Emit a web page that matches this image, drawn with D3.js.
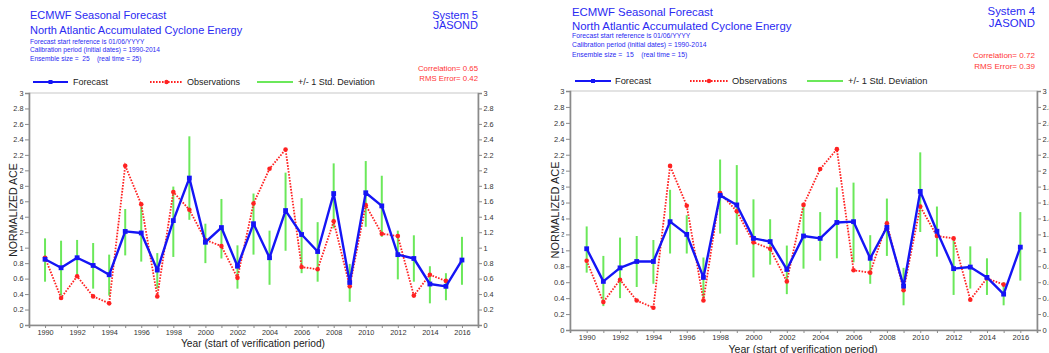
<!DOCTYPE html>
<html>
<head>
<meta charset="utf-8">
<script src="https://cdn.jsdelivr.net/npm/d3@7"></script>
<style>
  body { margin: 0; background: #fff; }
  svg { display: block; }
  text { font-family: "Liberation Sans", Arial, Helvetica, sans-serif; }
</style>
</head>
<body>
<svg id="chart" width="1049" height="353"></svg>
<script>
// Verification years (start of JASOND period)
const years = [1990, 1991, 1992, 1993, 1994, 1995, 1996, 1997, 1998, 1999,
               2000, 2001, 2002, 2003, 2004, 2005, 2006, 2007, 2008, 2009,
               2010, 2011, 2012, 2013, 2014, 2015, 2016];

// Observed normalized ACE (no value yet for 2016)
const observed = [0.87, 0.35, 0.63, 0.37, 0.28, 2.06, 1.56, 0.37, 1.72, 1.49,
                  1.10, 1.02, 0.61, 1.57, 2.02, 2.27, 0.75, 0.72, 1.34, 0.50,
                  1.55, 1.18, 1.15, 0.38, 0.65, 0.57];

// System 5 ensemble mean and +/- 1 std. deviation range
const s5Mean = [0.85, 0.74, 0.87, 0.77, 0.65, 1.21, 1.19, 0.71, 1.35, 1.90,
                1.07, 1.26, 0.76, 1.31, 0.87, 1.48, 1.17, 0.95, 1.70, 0.55,
                1.71, 1.54, 0.91, 0.86, 0.53, 0.50, 0.84];
const s5Low  = [0.56, 0.38, 0.62, 0.47, 0.38, 0.90, 0.82, 0.47, 0.88, 1.36,
                0.80, 0.86, 0.47, 0.91, 0.52, 0.96, 0.67, 0.56, 1.25, 0.30,
                1.27, 1.14, 0.59, 0.56, 0.28, 0.32, 0.52];
const s5High = [1.12, 1.09, 1.10, 1.06, 0.91, 1.50, 1.53, 0.93, 1.79, 2.44,
                1.31, 1.63, 1.03, 1.70, 1.22, 1.97, 1.64, 1.33, 2.09, 0.79,
                2.12, 1.93, 1.22, 1.16, 0.76, 0.67, 1.14];

// System 4 ensemble mean and +/- 1 std. deviation range
const s4Mean = [1.02, 0.61, 0.78, 0.86, 0.86, 1.36, 1.20, 0.66, 1.69, 1.57,
                1.15, 1.11, 0.76, 1.18, 1.15, 1.35, 1.36, 0.90, 1.29, 0.55,
                1.74, 1.24, 0.77, 0.79, 0.66, 0.45, 1.04];
const s4Low  = [0.72, 0.30, 0.40, 0.54, 0.58, 0.96, 0.96, 0.40, 1.21, 1.07,
                0.66, 0.82, 0.45, 0.77, 0.87, 0.90, 0.85, 0.58, 0.93, 0.31,
                1.23, 0.92, 0.44, 0.52, 0.44, 0.31, 0.62];
const s4High = [1.30, 0.93, 1.16, 1.18, 1.13, 1.76, 1.44, 0.91, 2.14, 2.07,
                1.64, 1.39, 1.06, 1.56, 1.48, 1.79, 1.85, 1.19, 1.65, 0.78,
                2.23, 1.55, 1.12, 1.05, 0.90, 0.60, 1.48];

// Axis ticks
const yTicks = [0, 0.2, 0.4, 0.6, 0.8, 1, 1.2, 1.4, 1.6, 1.8, 2, 2.2, 2.4, 2.6, 2.8, 3];
const xLabelYears = [1990, 1992, 1994, 1996, 1998, 2000, 2002, 2004, 2006, 2008,
                     2010, 2012, 2014, 2016];
const xDomain = [1989, 2017];

// Header texts
const headerLines = ["ECMWF Seasonal Forecast", "North Atlantic Accumulated Cyclone Energy"];
const panels = [
  { system: "System 5", season: "JASOND",
    info: ["Forecast start reference is 01/06/YYYY",
           "Calibration period (initial dates) = 1990-2014",
           "Ensemble size =  25    (real time = 25)"],
    stats: ["Correlation= 0.65", "RMS Error= 0.42"],
    mean: s5Mean, low: s5Low, high: s5High },
  { system: "System 4", season: "JASOND",
    info: ["Forecast start reference is 01/06/YYYY",
           "Calibration period (initial dates) = 1990-2014",
           "Ensemble size =  15    (real time = 15)"],
    stats: ["Correlation= 0.72", "RMS Error= 0.39"],
    mean: s4Mean, low: s4Low, high: s4High }
];
const legendLabels = ["Forecast", "Observations", "+/- 1 Std. Deviation"];

// Layout of each panel on the page
const layouts = [
  { left: 29, right: 478, top: 93, bottom: 325, k: 1,
    titleX: 30, titleY: [19, 33.5], infoY: [43.5, 52, 60.5], rightX: 478,
    sysY: [18.5, 28.5], statY: [70.5, 81],
    legY: 82, leg: [[33, 68, 73], [150, 183, 187], [257, 293, 298]],
    yTitleX: 13, yTitleY: 210, xTitleX: 253, xTitleY: 347, xLabY: 336 },
  { left: 570, right: 1037, top: 91, bottom: 330, k: 1.035,
    titleX: 572, titleY: [16, 30], infoY: [37.5, 47, 56.5], rightX: 1035,
    sysY: [14.5, 27], statY: [57.5, 68.5],
    legY: 81, leg: [[575, 611, 615], [690, 728, 732], [807, 843, 848]],
    yTitleX: 555, yTitleY: 210, xTitleX: 803, xTitleY: 353, xLabY: 341 }
];

const BLUE = "#1515f5", RED = "#ff2222", GREEN = "#6be85a", AXIS = "#8a8a8a";
const TITLE_BLUE = "#2a2af2", STAT_RED = "#ff3535";

const svg = d3.select("#chart");

function drawPanel(p, L) {
  const g = svg.append("g");
  const k = L.k;
  const x = d3.scaleLinear().domain(xDomain).range([L.left, L.right]);
  const y = d3.scaleLinear().domain([0, 3]).range([L.bottom, L.top]);

  // Header
  headerLines.forEach((t, i) => g.append("text")
    .attr("x", L.titleX).attr("y", L.titleY[i])
    .attr("font-size", 11 * k).attr("fill", TITLE_BLUE).text(t));
  p.info.forEach((t, i) => g.append("text")
    .attr("x", L.titleX).attr("y", L.infoY[i])
    .attr("font-size", 6.6 * k).attr("fill", TITLE_BLUE)
    .attr("xml:space", "preserve").style("white-space", "pre").text(t));
  [p.system, p.season].forEach((t, i) => g.append("text")
    .attr("x", L.rightX).attr("y", L.sysY[i]).attr("text-anchor", "end")
    .attr("font-size", 11 * k).attr("fill", TITLE_BLUE).text(t));
  p.stats.forEach((t, i) => g.append("text")
    .attr("x", L.rightX).attr("y", L.statY[i]).attr("text-anchor", "end")
    .attr("font-size", 7.8 * k).attr("fill", STAT_RED).text(t));

  // Legend
  const [lf, lo, ls] = L.leg;
  g.append("line").attr("x1", lf[0]).attr("x2", lf[1]).attr("y1", L.legY).attr("y2", L.legY)
    .attr("stroke", BLUE).attr("stroke-width", 2.2);
  g.append("rect").attr("x", (lf[0] + lf[1]) / 2 - 2).attr("y", L.legY - 2)
    .attr("width", 4).attr("height", 4).attr("fill", BLUE);
  g.append("line").attr("x1", lo[0]).attr("x2", lo[1]).attr("y1", L.legY).attr("y2", L.legY)
    .attr("stroke", RED).attr("stroke-width", 1.8).attr("stroke-dasharray", "1.6,1.4");
  g.append("circle").attr("cx", (lo[0] + lo[1]) / 2).attr("cy", L.legY).attr("r", 2.2).attr("fill", RED);
  g.append("line").attr("x1", ls[0]).attr("x2", ls[1]).attr("y1", L.legY).attr("y2", L.legY)
    .attr("stroke", GREEN).attr("stroke-width", 1.8);
  [lf, lo, ls].forEach((e, i) => g.append("text")
    .attr("x", e[2]).attr("y", L.legY + 3.2).attr("font-size", 9 * k)
    .attr("fill", "#222").text(legendLabels[i]));

  // Plot frame
  g.append("rect").attr("x", L.left).attr("y", L.top)
    .attr("width", L.right - L.left).attr("height", L.bottom - L.top)
    .attr("fill", "none").attr("stroke", "#c8c8c8").attr("stroke-width", 1);

  const fmt = d3.format("~g");
  const styleAxis = sel => {
    sel.selectAll("path.domain").attr("stroke", AXIS).attr("stroke-width", 1.6);
    sel.selectAll(".tick line").attr("stroke", AXIS).attr("stroke-width", 1);
    sel.selectAll(".tick text").attr("fill", "#333").attr("font-size", 7.3 * k)
      .attr("font-family", "'Liberation Sans', Arial, sans-serif");
  };

  const yLeft = g.append("g").attr("transform", `translate(${L.left},0)`)
    .call(d3.axisLeft(y).tickValues(yTicks).tickFormat(fmt).tickSizeOuter(0).tickSize(4).tickPadding(1.5));
  styleAxis(yLeft);
  const yRight = g.append("g").attr("transform", `translate(${L.right},0)`)
    .call(d3.axisRight(y).tickValues(yTicks).tickFormat(fmt).tickSizeOuter(0).tickSize(4).tickPadding(1.5));
  styleAxis(yRight);

  const xAxis = g.append("g").attr("transform", `translate(0,${L.bottom})`)
    .call(d3.axisBottom(x).tickValues(years)
      .tickFormat(d => xLabelYears.includes(d) ? String(d) : "")
      .tickSizeOuter(0).tickSize(3).tickPadding(L.xLabY - L.bottom - 9));
  styleAxis(xAxis);

  // Axis titles
  g.append("text").attr("x", L.xTitleX).attr("y", L.xTitleY).attr("text-anchor", "middle")
    .attr("font-size", 10.2 * k).attr("fill", "#222").text("Year (start of verification period)");
  const yt = g.append("text")
    .attr("transform", `translate(${L.yTitleX + 4 * k},${L.yTitleY}) rotate(-90)`)
    .attr("text-anchor", "middle").attr("font-size", 10.6 * k).attr("fill", "#222")
    .text("NORMALIZED ACE");
  const bb = yt.node().getBBox();
  // white box behind the rotated title (in the rotated frame)
  g.insert("rect", () => yt.node())
    .attr("transform", `translate(${L.yTitleX + 4 * k},${L.yTitleY}) rotate(-90)`)
    .attr("x", bb.x - 1).attr("y", bb.y - 1).attr("width", bb.width + 2).attr("height", bb.height + 1.5)
    .attr("fill", "#fff");

  // +/- 1 std. deviation bars
  g.append("g").selectAll("line").data(years).join("line")
    .attr("x1", d => x(d)).attr("x2", d => x(d))
    .attr("y1", (d, i) => y(p.low[i])).attr("y2", (d, i) => y(p.high[i]))
    .attr("stroke", GREEN).attr("stroke-width", 2);

  // Observations
  const obsPts = observed.map((v, i) => [years[i], v]);
  g.append("path").datum(obsPts)
    .attr("d", d3.line().x(d => x(d[0])).y(d => y(d[1])))
    .attr("fill", "none").attr("stroke", RED).attr("stroke-width", 1.8)
    .attr("stroke-dasharray", "1.6,1.4");
  g.append("g").selectAll("circle").data(obsPts).join("circle")
    .attr("cx", d => x(d[0])).attr("cy", d => y(d[1])).attr("r", 2.3).attr("fill", RED);

  // Forecast ensemble mean
  const fcPts = p.mean.map((v, i) => [years[i], v]);
  g.append("path").datum(fcPts)
    .attr("d", d3.line().x(d => x(d[0])).y(d => y(d[1])))
    .attr("fill", "none").attr("stroke", BLUE).attr("stroke-width", 2.4)
    .attr("stroke-linejoin", "round");
  g.append("g").selectAll("rect").data(fcPts).join("rect")
    .attr("x", d => x(d[0]) - 2.4).attr("y", d => y(d[1]) - 2.4)
    .attr("width", 4.8).attr("height", 4.8).attr("fill", BLUE);
}

panels.forEach((p, i) => drawPanel(p, layouts[i]));
</script>
</body>
</html>
